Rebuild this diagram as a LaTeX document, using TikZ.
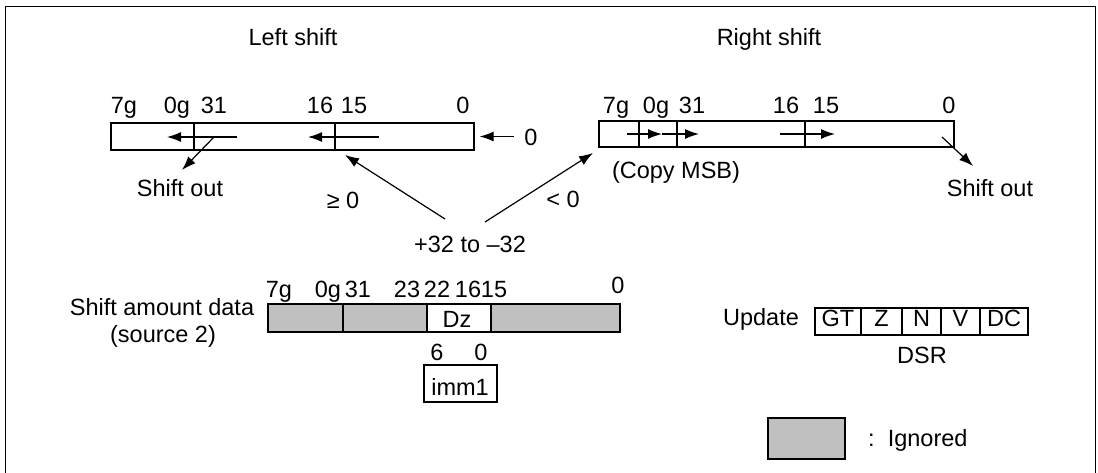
\documentclass[tikz,border=0pt]{standalone}
\usepackage{fontspec}
\setmainfont{Liberation Sans}
\usetikzlibrary{arrows.meta,calc}
\definecolor{ignfill}{RGB}{192,192,192}

\begin{document}
\begin{tikzpicture}[
  x=1pt, y=-1pt,
  >={Latex[length=14pt,width=10pt]},
  every node/.style={font=\fontsize{23.5}{28}\selectfont, inner sep=0pt},
  lbl/.style={anchor=base},
  reg/.style={draw, line width=1.3pt},
  ign/.style={draw, line width=1.3pt, fill=ignfill},
  conn/.style={->, line width=1.2pt}
]
\useasboundingbox (0,0) rectangle (1098,472);
\draw[line width=1pt] (5,480) -- (5,6) -- (1095,6) -- (1095,480);

\node[lbl] (LTitle) at (293,45) {Left shift};
\node[lbl] (RTitle) at (769,45) {Right shift};

% left shift register
\node[reg, minimum width=363pt, minimum height=27pt] (LReg) at (292.5,136.5) {};
\draw[reg] (194,123) -- (194,150) (335,123) -- (335,150);
\foreach \t/\x in {7g/124, 0g/177, 31/214, 16/320, 15/354, 0/463}
  \node[lbl] (LB\t) at (\x,113) {\t};
\coordinate (LA1) at (237,137);
\coordinate (LA2) at (379,137);
\draw[conn] (LA1) -- (167,137);
\draw[conn] (LA2) -- (308,137);
\node[lbl] (LZero) at (531,145) {0};
\draw[conn] ($(LZero.west |- LReg.east)+(-10,0)$) -- ($(LReg.east)+(5,0)$);
\node[lbl] (LOut) at (180,196) {Shift out};
\coordinate (LOutS) at (214,137);
\draw[conn] (LOutS) -- (182,170);

% right shift register
\node[reg, minimum width=355pt, minimum height=26pt] (RReg) at (776.5,134) {};
\draw[reg] (639,121) -- (639,147) (677,121) -- (677,147) (805,121) -- (805,147);
\foreach \t/\x in {7g/616, 0g/656, 31/692, 16/786, 15/826, 0/949}
  \node[lbl] (RB\t) at (\x,113) {\t};
\coordinate (RA1) at (627,134);
\coordinate (RA2) at (662,134);
\coordinate (RA3) at (780,134);
\draw[conn] (RA1) -- (RA2);
\draw[conn] (RA2) -- (699,134);
\draw[conn] (RA3) -- (835,134);
\node[lbl] (Copy) at (676,178) {(Copy MSB)};
\node[lbl] (ROut) at (990,196) {Shift out};
\coordinate (ROutS) at (942,137);
\draw[conn] (ROutS) -- (973,166);

% shift amount
\node[lbl] (Amt) at (470,252) {+32 to –32};
\node[lbl] (GeZero) at (343,208) {≥ 0};
\node[lbl] (LtZero) at (563,207) {< 0};
\coordinate (AmtL) at (445,219);
\coordinate (AmtR) at (485,222);
\coordinate (LTip) at (345,155);
\coordinate (RTip) at (593,153);
\draw[conn] (AmtL) -- (LTip);
\draw[conn] (AmtR) -- (RTip);

% source 2
\node[lbl] (SrcA) at (162,315) {Shift amount data};
\node[lbl] (SrcB) at (163,342) {(source 2)};
\draw[ign] (268,304) rectangle (343,332);
\draw[ign] (343,304) rectangle (427,332);
\draw[ign] (491,304) rectangle (620,332);
\draw[reg] (427,304) rectangle (491,332);
\node[lbl] (Dz) at (457,327) {Dz};
\foreach \t/\x in {7g/279, 0g/328, 31/358, 23/407, 22/437, 16/468, 15/494}
  \node[lbl] (SB\t) at (\x,297) {\t};
\node[lbl] (SB0) at (618,293) {0};
\node[lbl] (ImmHi) at (437,360) {6};
\node[lbl] (ImmLo) at (481,360) {0};
\draw[reg] (424,365) rectangle (497,402);
\node[lbl] (Imm) at (460,395) {imm1};

% DSR
\node[lbl] (Upd) at (761,325) {Update};
\foreach \f/\xa/\xb in {GT/815/861, Z/861/902, N/902/941, V/941/980, DC/980/1028} {
  \draw[reg] (\xa,308) rectangle (\xb,335);
  \node[lbl] (F\f) at ({(\xa+\xb)/2},326) {\f};
}
\node[lbl] (Dsr) at (922,363) {DSR};

% legend
\draw[ign] (768,418) rectangle (845,459);
\node[lbl, anchor=base west] (Ign) at (868,446) {:\ \ Ignored};
\end{tikzpicture}
\end{document}
